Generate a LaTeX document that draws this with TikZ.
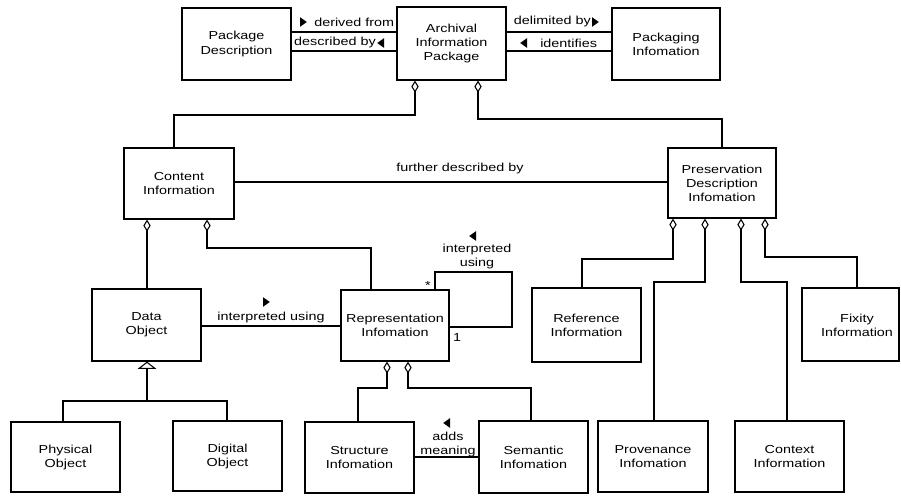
\documentclass[tikz,border=0pt]{standalone}
\usepackage{fontspec}
\setmainfont{Liberation Sans}[FakeStretch=1.24]
\usetikzlibrary{arrows.meta}
\begin{document}
\begin{tikzpicture}[x=0.75pt,y=-0.75pt,
  txt/.style={font=\fontsize{8.7}{10.5}\selectfont},
  box/.style={draw,line width=0.9pt,inner sep=0pt,align=center,txt},
  wh/.style 2 args={minimum width=#1*0.75pt,minimum height=#2*0.75pt},
  conn/.style={line width=0.9pt},
  agg/.style={conn,{Diamond[open,length=9pt,width=5.5pt,line width=0.8pt]}-},
  gen/.style={conn,{Triangle[open,length=5.5pt,width=14pt,line width=0.8pt]}-},
  lbl/.style={inner sep=0pt,align=center,txt},
  rtri/.pic={\fill (-3,-4.8) -- (3.8,0) -- (-3,4.8) -- cycle;},
  ltri/.pic={\fill (3,-4.8) -- (-3.8,0) -- (3,4.8) -- cycle;}]
\useasboundingbox (0,0) rectangle (901,496);
% boxes
\node[box,wh={109}{72}] (pd) at (236.5,44) {Package\\Description};
\node[box,wh={109}{73}] (aip) at (451.5,43.5) {Archival\\Information\\Package};
\node[box,wh={108}{72}] (pi) at (666,44) {Packaging\\Infomation};
\node[box,wh={110}{71}] (ci) at (179,183.5) {Content\\Information};
\node[box,wh={108}{70}] (pdi) at (722,183) {Preservation\\Description\\Infomation};
\node[box,wh={109}{72}] (do) at (146.5,325) {Data\\Object};
\node[box,wh={108}{71}] (ri) at (395,325.5) {Representation\\Infomation};
\node[box,wh={109}{74}] (ref) at (586.5,325) {Reference\\Information};
\node[box,wh={97}{73}] (fix) at (850.5,324.5) {};
\node[lbl] (fixt) at (857,325) {Fixity\\Information};
\node[box,wh={109}{70}] (po) at (65.5,457) {Physical\\Object};
\node[box,wh={109}{70}] (dgo) at (227.5,456) {Digital\\Object};
\node[box,wh={109}{71}] (si) at (359.5,457.5) {Structure\\Infomation};
\node[box,wh={109}{72}] (se) at (533.5,457) {Semantic\\Infomation};
\node[box,wh={110}{71}] (prov) at (653,456.5) {Provenance\\Infomation};
\node[box,wh={109}{71}] (ctx) at (789.5,456.5) {Context\\Information};
% top associations
\draw[conn] (pd.east |- 0,32) -- (aip.west |- 0,32);
\draw[conn] (pd.east |- 0,51) -- (aip.west |- 0,51);
\draw[conn] (aip.east |- 0,32) -- (pi.west |- 0,32);
\draw[conn] (aip.east |- 0,51) -- (pi.west |- 0,51);
\node[lbl,anchor=west] (l1) at (314,22) {derived from};
\pic at (303,22) {rtri};
\node[lbl,anchor=east] (l2) at (376,43) {described by};
\pic at (381,43) {ltri};
\node[lbl,anchor=east] (l3) at (591,22) {delimited by};
\pic at (595,22) {rtri};
\node[lbl,anchor=west] (l4) at (540,43) {identifies};
\pic at (524,43) {ltri};
% aggregations from AIP
\draw[agg] (415,0 |- aip.south) |- (174,115) -- (174,0 |- ci.north);
\draw[agg] (478,0 |- aip.south) |- (722,119) -- (722,0 |- pdi.north);
% further described by
\draw[conn] (ci.east |- 0,182) -- (pdi.west |- 0,182);
\node[lbl] (l5) at (460,168) {further described by};
% content info
\draw[agg] (147,0 |- ci.south) -- (147,0 |- do.north);
\draw[agg] (207,0 |- ci.south) |- (371,248) -- (371,0 |- ri.north);
% data object - rep info
\draw[conn] (do.east |- 0,326) -- (ri.west |- 0,326);
\node[lbl] (l6) at (271,317) {interpreted using};
\pic at (266,302) {rtri};
% self loop
\draw[conn] (435,0 |- ri.north) |- (512,272) |- (ri.east |- 0,327);
\node[lbl] (l7) at (477,256) {interpreted\\using};
\pic at (473,236) {ltri};
\node[lbl] (m1) at (428,286) {*};
\node[lbl] (m2) at (457,338) {1};
% generalization
\draw[gen] (147,0 |- do.south) -- (147,401);
\draw[conn] (63,0 |- po.north) |- (227,401) -- (227,0 |- dgo.north);
% rep info parts
\draw[agg] (387,0 |- ri.south) |- (358,388) -- (358,0 |- si.north);
\draw[agg] (408,0 |- ri.south) |- (531,388) -- (531,0 |- se.north);
\draw[conn] (si.east |- 0,457) -- (se.west |- 0,457);
\node[lbl] (l8) at (448,444) {adds\\meaning};
\pic at (447,423) {ltri};
% PDI parts
\draw[agg] (673,0 |- pdi.south) |- (582,259) -- (582,0 |- ref.north);
\draw[agg] (705,0 |- pdi.south) |- (654,282) -- (654,0 |- prov.north);
\draw[agg] (741,0 |- pdi.south) |- (787,282) -- (787,0 |- ctx.north);
\draw[agg] (765,0 |- pdi.south) |- (857,257) -- (857,0 |- fix.north);
\end{tikzpicture}
\end{document}
